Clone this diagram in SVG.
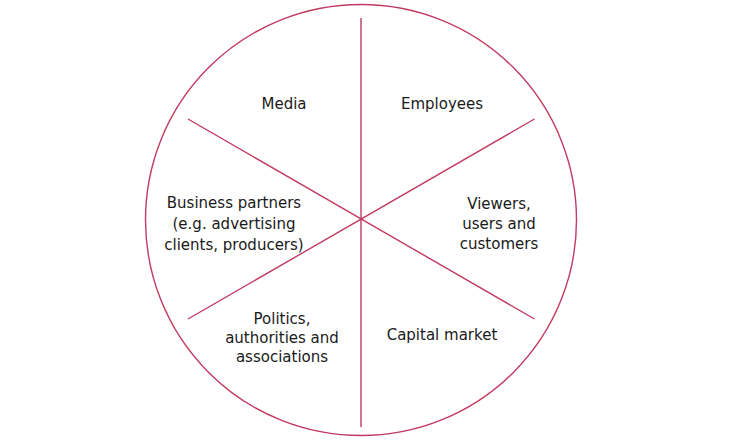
<svg xmlns="http://www.w3.org/2000/svg" width="740" height="440" viewBox="0 0 740 440">
<style>
.ln{stroke:#c23a5f;stroke-width:1.4;fill:none}
.t{font-family:"DejaVu Sans","Liberation Sans",sans-serif;font-size:15px;fill:#1a1a1a;text-anchor:middle}
</style>
<rect width="740" height="440" fill="#ffffff"/>
<g id="connectors">
<circle class="ln" cx="361" cy="220" r="215.5"/>
<line class="ln" x1="361" y1="18" x2="361" y2="427"/>
<line class="ln" x1="188" y1="119" x2="534.5" y2="319"/>
<line class="ln" x1="188" y1="319" x2="534.5" y2="119"/>
</g>
<g id="media"><text class="t" x="284" y="109">Media</text></g>
<g id="employees"><text class="t" x="442" y="109">Employees</text></g>
<g id="business-partners"><text class="t" x="234" y="208">Business partners</text><text class="t" x="234" y="229">(e.g. advertising</text><text class="t" x="234" y="250">clients, producers)</text></g>
<g id="viewers"><text class="t" x="499" y="209">Viewers,</text><text class="t" x="499" y="229">users and</text><text class="t" x="499" y="249">customers</text></g>
<g id="politics"><text class="t" x="282" y="324">Politics,</text><text class="t" x="282" y="343">authorities and</text><text class="t" x="282" y="362">associations</text></g>
<g id="capital-market"><text class="t" x="442" y="340">Capital market</text></g>
</svg>
